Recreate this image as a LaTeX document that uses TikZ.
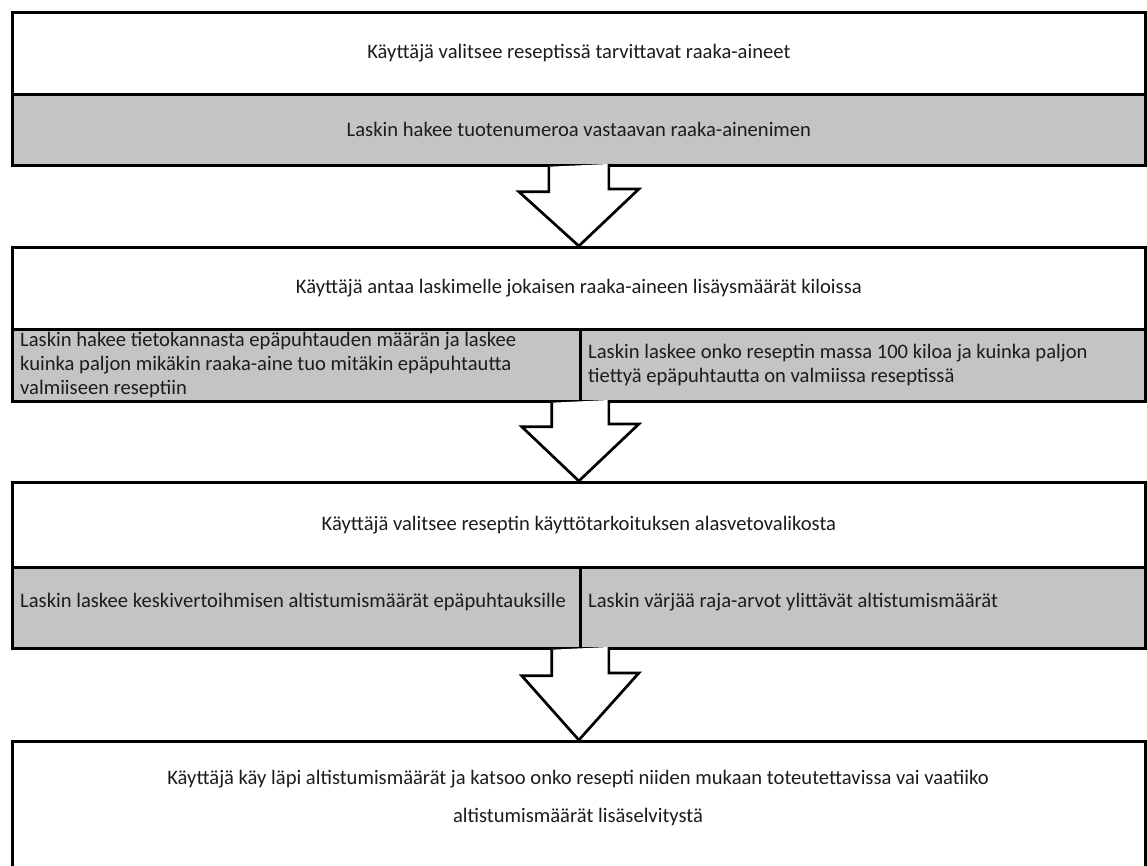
\documentclass[tikz,border=0pt]{standalone}
\usepackage{fontspec}
\setmainfont{Carlito}
\usetikzlibrary{calc}
\definecolor{boxgray}{RGB}{196,196,196}
\definecolor{txt}{RGB}{28,28,28}
\begin{document}
\begin{tikzpicture}[x=1pt,y=-1pt,
  frame/.style={draw=black, line width=2.7pt, inner sep=0pt, anchor=north west,
    font=\fontsize{20.6}{24}\selectfont, text=txt},
  whitebox/.style={frame, fill=white},
  graybox/.style={frame, fill=boxgray},
  lbl/.style={inner sep=0pt, font=\fontsize{20.6}{24}\selectfont, text=txt, align=left},
  blockarrow/.style={draw=black, line width=2.7pt, line join=miter, fill=white}]
\useasboundingbox (0,0) rectangle (1147,866);
\clip (0,0) rectangle (1147,866);
% box 1
\node[whitebox, minimum width=1133pt, minimum height=82pt] (b1top) at (11,11)
  {Käyttäjä valitsee reseptissä tarvittavat raaka-aineet};
\node[graybox, minimum width=1133pt, minimum height=71pt] (b1bot) at (11,93)
  {Laskin hakee tuotenumeroa vastaavan raaka-ainenimen};
% box 2
\node[whitebox, minimum width=1133pt, minimum height=82pt] (b2top) at (11,246)
  {Käyttäjä antaa laskimelle jokaisen raaka-aineen lisäysmäärät kiloissa};
\node[graybox, minimum width=568pt, minimum height=72pt] (b2L) at (11,328) {};
\node[graybox, minimum width=565pt, minimum height=72pt] (b2R) at (579,328) {};
\node[lbl, anchor=west] (t2L) at ($(b2L.west)+(9,0)$)
  {Laskin hakee tietokannasta epäpuhtauden määrän ja laskee\\
   kuinka paljon mikäkin raaka-aine tuo mitäkin epäpuhtautta\\
   valmiiseen reseptiin};
\node[lbl, anchor=west] (t2R) at ($(b2R.west)+(9,0)$)
  {Laskin laskee onko reseptin massa 100 kiloa ja kuinka paljon\\
   tiettyä epäpuhtautta on valmiissa reseptissä};
% box 3
\node[whitebox, minimum width=1133pt, minimum height=85pt] (b3top) at (11,481)
  {Käyttäjä valitsee reseptin käyttötarkoituksen alasvetovalikosta};
\node[graybox, minimum width=568pt, minimum height=81pt] (b3L) at (11,566) {};
\node[graybox, minimum width=565pt, minimum height=81pt] (b3R) at (579,566) {};
\node[lbl, anchor=west] (t3L) at ($(b3L.west)+(9,-6)$)
  {Laskin laskee keskivertoihmisen altistumismäärät epäpuhtauksille};
\node[lbl, anchor=west] (t3R) at ($(b3R.west)+(9,-6)$)
  {Laskin värjää raja-arvot ylittävät altistumismäärät};
% box 4 (runs past the bottom edge)
\node[whitebox, minimum width=1133pt, minimum height=160pt] (b4) at (11,740) {};
\node[lbl, align=center, font=\fontsize{20.6}{38}\selectfont] (t4) at (578,798)
  {Käyttäjä käy läpi altistumismäärät ja katsoo onko resepti niiden mukaan toteutettavissa vai vaatiiko\\
   altistumismäärät lisäselvitystä};
% block arrows
\draw[blockarrow] ($(b1bot.south)+(-30,0)$) -- ++(0,25) -- ++(-30,0)
  -- (b2top.north) -- ++(60,-57) -- ++(-30,0) -- ++(0,-25);
\draw[blockarrow] ($(b2L.south east)+(-30,0)$) -- ++(0,24) -- ++(-30,0)
  -- (b3top.north) -- ++(60,-57) -- ++(-30,0) -- ++(0,-24);
\draw[blockarrow] ($(b3L.south east)+(-30,0)$) -- ++(0,26) -- ++(-30,0)
  -- (b4.north) -- ++(60,-67) -- ++(-30,0) -- ++(0,-26);
\end{tikzpicture}
\end{document}
